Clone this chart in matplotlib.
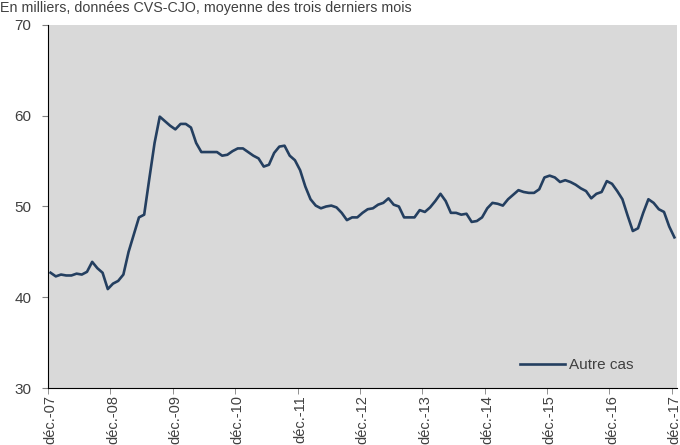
import matplotlib
matplotlib.use('Agg')
import matplotlib.pyplot as plt
from matplotlib.ticker import FixedLocator

plt.rcParams['font.family'] = ['Liberation Sans', 'DejaVu Sans']

# monthly values, Dec 2007 -> Dec 2017 (thousands)
values = [
    42.7, 42.3, 42.5, 42.4, 42.4, 42.6, 42.5, 42.8, 43.9, 43.2, 42.7, 40.9,
    41.5, 41.8, 42.5, 45.0, 46.9, 48.8, 49.1, 53.1, 57.0, 59.9, 59.4, 58.9,
    58.5, 59.1, 59.1, 58.7, 57.0, 56.0, 56.0, 56.0, 56.0, 55.6, 55.7, 56.1,
    56.4, 56.4, 56.0, 55.6, 55.3, 54.4, 54.6, 55.9, 56.6, 56.7, 55.6, 55.1,
    54.0, 52.2, 50.8, 50.1, 49.8, 50.0, 50.1, 49.9, 49.3, 48.5, 48.8, 48.8,
    49.3, 49.7, 49.8, 50.2, 50.4, 50.9, 50.2, 50.0, 48.8, 48.8, 48.8, 49.6,
    49.4, 49.9, 50.6, 51.4, 50.6, 49.3, 49.3, 49.1, 49.2, 48.3, 48.4, 48.8,
    49.8, 50.4, 50.3, 50.1, 50.8, 51.3, 51.8, 51.6, 51.5, 51.5, 51.9, 53.2,
    53.4, 53.2, 52.7, 52.9, 52.7, 52.4, 52.0, 51.7, 50.9, 51.4, 51.6, 52.8,
    52.5, 51.7, 50.8, 49.0, 47.3, 47.6, 49.3, 50.8, 50.4, 49.7, 49.4, 47.8,
    46.6,
]
tick_labels = ['déc.-07', 'déc.-08', 'déc.-09', 'déc.-10', 'déc.-11', 'déc.-12',
               'déc.-13', 'déc.-14', 'déc.-15', 'déc.-16', 'déc.-17']
subtitle = 'En milliers, données CVS-CJO, moyenne des trois derniers mois'

text_col = '#404040'
line_col = '#243F60'

fig = plt.figure(figsize=(6.8, 4.45), dpi=100)
ax = fig.add_axes([48/680, 1 - 388/445, 629/680, 363/445])
ax.set_facecolor('#D9D9D9')

x = list(range(len(values)))
ax.plot(x, values, color=line_col, lw=1.9, label='Autre cas')

ax.set_xlim(-0.5, len(values) - 0.5)
ax.set_ylim(30, 70)
ax.set_yticks([30, 40, 50, 60, 70])

# labels centred on the december category, ticks on the category edges
ax.set_xticks(list(range(0, len(values), 12)))
ax.set_xticklabels(tick_labels, rotation=90, fontsize=10.5, color=text_col)
ax.xaxis.set_minor_locator(FixedLocator([i - 0.5 for i in range(0, len(values), 12)]))
ax.tick_params(axis='x', which='major', length=0, pad=5)
ax.tick_params(axis='x', which='minor', length=4, color='#808080')
ax.tick_params(axis='y', length=4, color='#808080', labelsize=11,
               labelcolor=text_col, pad=8)

for s in ['top', 'right']:
    ax.spines[s].set_visible(False)
ax.spines['left'].set_color('black')
ax.spines['bottom'].set_color('black')

leg = ax.legend(loc='lower right', bbox_to_anchor=(0.953, 0.006), frameon=False,
                fontsize=11, handlelength=3.0, handletextpad=0.25)
for t in leg.get_texts():
    t.set_color(text_col)

fig.text(0.0, 1 - 1/445, subtitle, fontsize=10.3, color=text_col, va='top', ha='left')

fig.savefig('out.png', dpi=100)
